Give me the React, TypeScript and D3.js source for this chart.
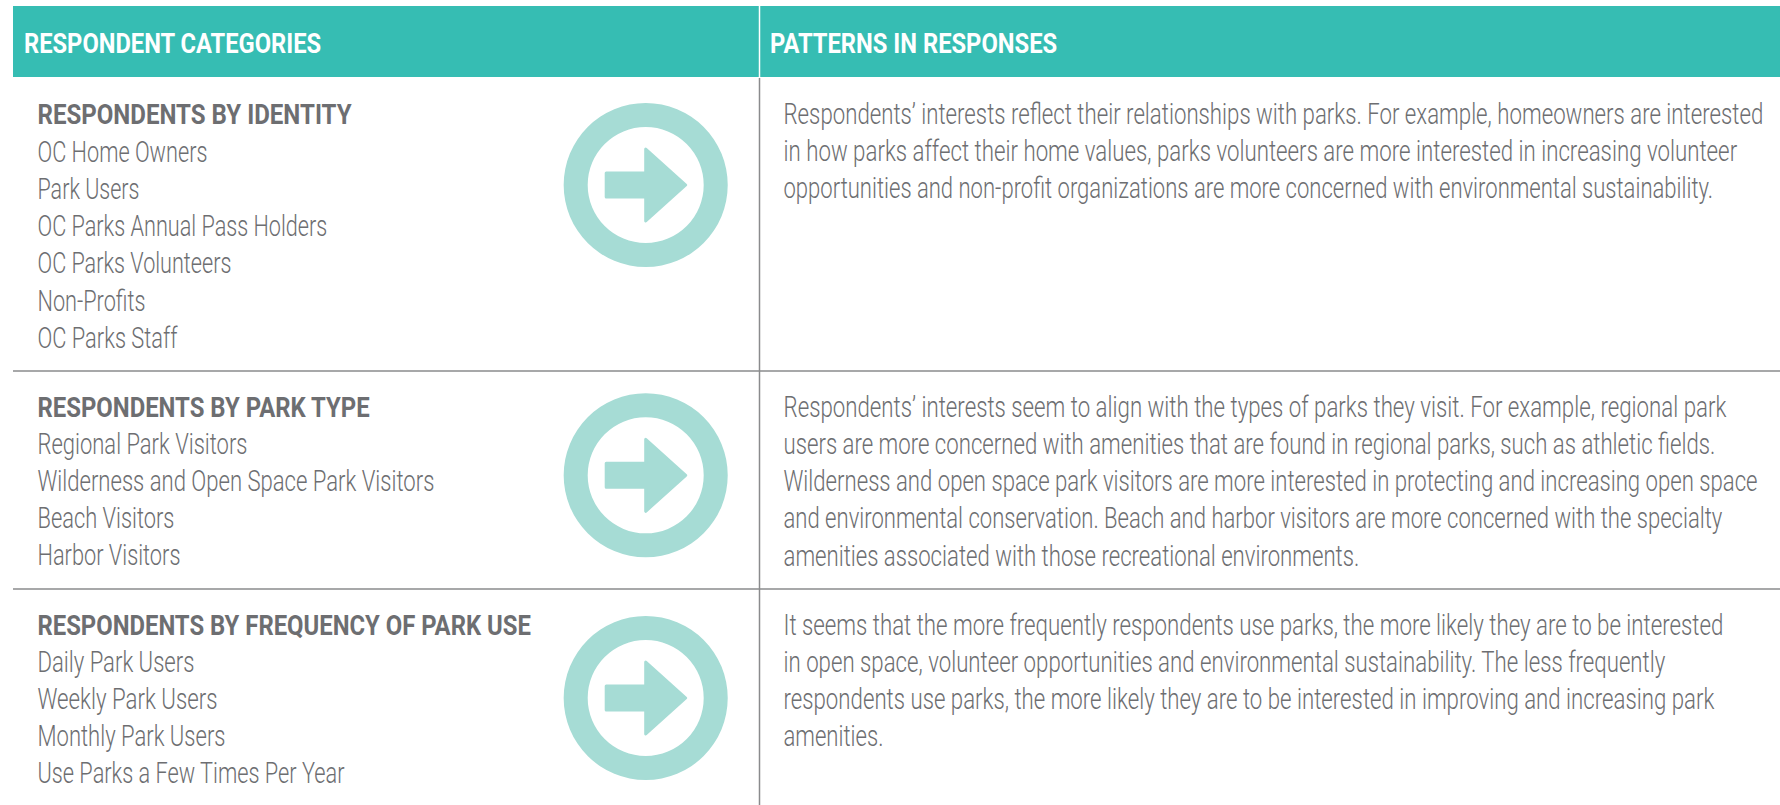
import React, { useLayoutEffect, useRef } from "react";
import * as d3 from "d3";

const width = 1780;
const height = 805;

const headers = ["RESPONDENT CATEGORIES", "PATTERNS IN RESPONSES"];
const headerWidths = [296, 286];

const groupTitles = [
  "RESPONDENTS BY IDENTITY",
  "RESPONDENTS BY PARK TYPE",
  "RESPONDENTS BY FREQUENCY OF PARK USE",
];
const groupTitleWidths = [313, 331, 492];

const groupItems = [
  ["OC Home Owners", "Park Users", "OC Parks Annual Pass Holders", "OC Parks Volunteers", "Non-Profits", "OC Parks Staff"],
  ["Regional Park Visitors", "Wilderness and Open Space Park Visitors", "Beach Visitors", "Harbor Visitors"],
  ["Daily Park Users", "Weekly Park Users", "Monthly Park Users", "Use Parks a Few Times Per Year"],
];
const groupItemWidths = [
  [169, 101, 289, 193, 107, 139],
  [209, 396, 136, 142],
  [156, 179, 187, 306],
];

const patterns = [
  [
    "Respondents’ interests reflect their relationships with parks. For example, homeowners are interested",
    "in how parks affect their home values, parks volunteers are more interested in increasing volunteer",
    "opportunities and non-profit organizations are more concerned with environmental sustainability.",
  ],
  [
    "Respondents’ interests seem to align with the types of parks they visit. For example, regional park",
    "users are more concerned with amenities that are found in regional parks, such as athletic fields.",
    "Wilderness and open space park visitors are more interested in protecting and increasing open space",
    "and environmental conservation. Beach and harbor visitors are more concerned with the specialty",
    "amenities associated with those recreational environments.",
  ],
  [
    "It seems that the more frequently respondents use parks, the more likely they are to be interested",
    "in open space, volunteer opportunities and environmental sustainability. The less frequently",
    "respondents use parks, the more likely they are to be interested in improving and increasing park",
    "amenities.",
  ],
];
const patternWidths = [
  [979, 953, 929],
  [942, 931, 973, 938, 575],
  [939, 881, 930, 99],
];

const titleY = [123.7, 416.7, 635];
const firstItemY = [161.5, 453.5, 671.5];
const firstPatternY = [123.7, 416.7, 634.5];
const iconY = [185, 475.3, 698];
const ruleY = [371, 589];

const teal = "#36bdb3";
const ringColor = "#a6dcd5";
const textColor = "#6d6e71";
const ruleColor = "#8a8b8d";
const lineGap = 37.25;
const bearing = 1; // side bearing of the glyphs, added to the widths

const sans = "Roboto, 'Liberation Sans', sans-serif";

// the original face is condensed, so every line is squeezed to its measured width
function FitText({ x, y, w, size, weight, fill, children }: any) {
  const ref = useRef<SVGTextElement>(null);
  useLayoutEffect(() => {
    const el = ref.current;
    if (!el) return;
    const natural = el.getComputedTextLength();
    el.setAttribute("transform", `translate(${x},${y}) scale(${(w + bearing) / natural},1)`);
  }, [x, y, w]);
  return (
    <text
      ref={ref}
      transform={`translate(${x},${y}) scale(0.77,1)`}
      fontFamily={sans}
      fontSize={size}
      fontWeight={weight}
      fill={fill}
    >
      {children}
    </text>
  );
}

function ArrowIcon({ cy }: { cy: number }) {
  const ring = d3.arc()({ innerRadius: 58, outerRadius: 82, startAngle: 0, endAngle: Math.PI * 2 } as any);
  const arrow = d3.line()([
    [-39.5, -12],
    [0, -12],
    [0, -36],
    [40, 0],
    [0, 36],
    [0, 12],
    [-39.5, 12],
  ]);
  return (
    <g transform={`translate(645.7,${cy})`}>
      <path d={ring || ""} fill={ringColor} />
      <path d={(arrow || "") + "Z"} fill={ringColor} stroke={ringColor} strokeWidth={3} strokeLinejoin="round" />
    </g>
  );
}

export default function App() {
  return (
    <svg
      width={width}
      height={height}
      style={{ position: "absolute", left: 0, top: 0, display: "block" }}
    >
      <rect x={13} y={6} width={width - 13} height={71} fill={teal} />
      <line x1={759.5} x2={759.5} y1={6} y2={77} stroke="#ffffff" strokeWidth={1.5} />
      <line x1={759.5} x2={759.5} y1={78} y2={height} stroke={ruleColor} strokeWidth={1.5} />
      {ruleY.map((y) => (
        <line key={y} x1={13} x2={width} y1={y} y2={y} stroke={ruleColor} strokeWidth={1.5} />
      ))}
      <FitText x={24} y={53} w={headerWidths[0]} size={28} weight={700} fill="#ffffff">{headers[0]}</FitText>
      <FitText x={770} y={53} w={headerWidths[1]} size={28} weight={700} fill="#ffffff">{headers[1]}</FitText>

      {groupTitles.map((title, i) => (
        <g key={title}>
          <FitText x={37.5} y={titleY[i]} w={groupTitleWidths[i]} size={28} weight={700} fill={textColor}>{title}</FitText>
          {groupItems[i].map((item, j) => (
            <FitText key={item} x={37.5} y={firstItemY[i] + j * lineGap} w={groupItemWidths[i][j]} size={29} weight={300} fill={textColor}>
              {item}
            </FitText>
          ))}
          <ArrowIcon cy={iconY[i]} />
          {patterns[i].map((line, j) => (
            <FitText key={line} x={783.5} y={firstPatternY[i] + j * lineGap} w={patternWidths[i][j]} size={29} weight={300} fill={textColor}>
              {line}
            </FitText>
          ))}
        </g>
      ))}
    </svg>
  );
}
